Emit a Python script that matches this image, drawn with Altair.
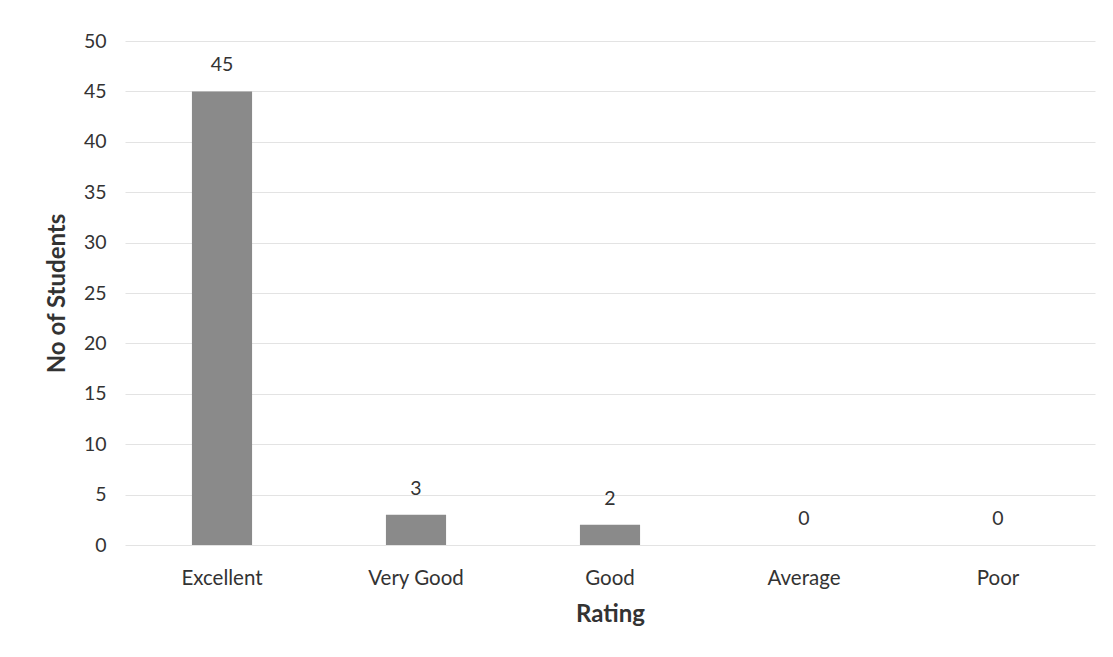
import altair as alt
import pandas as pd

ratings = ["Excellent", "Very Good", "Good", "Average", "Poor"]
students = [45, 3, 2, 0, 0]

df = pd.DataFrame({"Rating": ratings, "Students": students})

FONT = "Lato"
TXT = "#333333"

x_enc = alt.X(
    "Rating:N",
    sort=ratings,
    scale=alt.Scale(paddingInner=0.69, paddingOuter=0.345),
    axis=alt.Axis(
        title="Rating",
        labelAngle=0,
        domain=False,
        ticks=False,
        grid=False,
        labelPadding=23,
        labelFontSize=20.5,
        labelColor=TXT,
        titleFontSize=24,
        titleFontWeight="bold",
        titleColor=TXT,
        titlePadding=14,
        labelFont=FONT,
        titleFont=FONT,
    ),
)
y_enc = alt.Y(
    "Students:Q",
    scale=alt.Scale(domain=[0, 50]),
    axis=alt.Axis(
        title="No of Students",
        values=list(range(0, 51, 5)),
        domain=False,
        ticks=False,
        labelPadding=19,
        labelFontSize=19.5,
        labelColor=TXT,
        titleFontSize=24,
        titleFontWeight="bold",
        titleColor=TXT,
        titlePadding=14,
        gridColor="#e3e3e3",
        gridWidth=1.2,
        labelFont=FONT,
        titleFont=FONT,
    ),
)

bars = alt.Chart(df).mark_bar(color="#8a8a8a").encode(x=x_enc, y=y_enc)
labels = alt.Chart(df).mark_text(
    baseline="alphabetic", dy=-20, fontSize=19.5, color=TXT, font=FONT
).encode(x=x_enc, y=y_enc, text="Students:Q")

chart = (
    alt.layer(bars, labels)
    .properties(
        width=970,
        height=504,
        autosize=alt.AutoSizeParams(type="none"),
        padding={"left": 117, "top": 33, "right": 10, "bottom": 100},
        view=alt.ViewBackground(stroke="transparent", strokeWidth=0),
    )
    .configure_view(stroke="transparent", strokeWidth=0)
    .configure(background="white")
)

chart.save("out.html", embed_options={"renderer": "svg", "actions": False})
